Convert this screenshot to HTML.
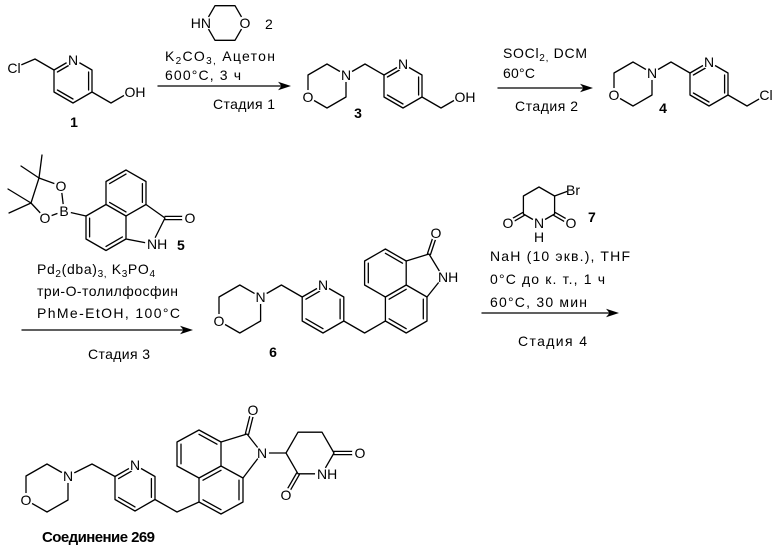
<!DOCTYPE html>
<html><head><meta charset="utf-8">
<style>
html,body{margin:0;padding:0;background:#fff;}
svg{display:block;}
text{font-family:"Liberation Sans",Arial,sans-serif;font-size:14px;fill:#000;}
.b{font-weight:bold;}
</style></head>
<body>
<svg width="780" height="555" viewBox="0 0 780 555" xmlns="http://www.w3.org/2000/svg">
<rect width="780" height="555" fill="#fff"/>
<g stroke="#000" stroke-width="1.3" fill="none" stroke-linecap="round" stroke-linejoin="round">
<!-- Compound 1 -->
<polygon points="73,59 92,70 92,92 73,103 54,92 54,70"/>
<path d="M57.4,72 L73,63 M88.6,72 L88.6,90 M73,99 L57.4,90"/>
<path d="M54,70 L35,59 L14,68 M92,92 L111,103 L130,92"/>
<!-- Morpholine 2 -->
<polygon points="205,23 215,5.7 235,5.7 245,23 235,40.3 215,40.3"/>
<!-- Arrow 1 -->
<path d="M158,86 L282,86"/>
<!-- Compound 3 -->
<polygon points="327,64 346,75 346,97 327,108 308,97 308,75"/>
<path d="M346,75 L365,64 L384,75"/>
<polygon points="403,64 422,75 422,97 403,108 384,97 384,75"/>
<path d="M387.4,77 L403,68 M418.6,77 L418.6,95 M403,104 L387.4,95"/>
<path d="M422,97 L441,108 L460,97"/>
<!-- Arrow 2 -->
<path d="M498,88 L586,88"/>
<!-- Compound 4 -->
<polygon points="633,62 652,73 652,95 633,106 614,95 614,73"/>
<path d="M652,73 L671,62 L690,73"/>
<polygon points="709,62 728,73 728,95 709,106 690,95 690,73"/>
<path d="M693.4,75 L709,66 M724.6,75 L724.6,93 M709,102 L693.4,93"/>
<path d="M728,95 L747,106 L766,95"/>
<!-- Compound 5 -->
<polygon points="126,170 146,181.5 146,204.5 126,216 106,204.5 106,181.5"/>
<path d="M126,216 L126,239 L106,250.5 L86,239 L86,216 L106,204.5"/>
<path d="M109.6,183.6 L126,174.1 M142.4,183.6 L142.4,202.4 M109.6,202.4 L126,211.9"/>
<path d="M89.6,236.9 L89.6,218.1 M122.4,236.9 L106,246.4"/>
<path d="M146,204.5 L165,218 L152,244 L126,239"/>
<path d="M165,216.4 L189,216.4 M165,219.6 L189,219.6"/>
<path d="M86,216 L64,211"/>
<path d="M64,211 L61,186 L39,178 L31,203 L45,218 L64,211"/>
<path d="M39,178 L42,155 M39,178 L21,166 M31,203 L8,189 M31,203 L9,213"/>
<!-- Arrow 3 -->
<path d="M22,330 L188,330"/>
<!-- Compound 6 -->
<polygon points="239.8,285 260.6,297 260.6,321 239.8,333 219,321 219,297"/>
<path d="M260.6,297 L281.4,285 L302.2,297"/>
<polygon points="323,285 343.8,297 343.8,321 323,333 302.2,321 302.2,297"/>
<path d="M305.9,299.2 L323,289.3 M340.1,299.2 L340.1,318.8 M323,328.7 L305.9,318.8"/>
<path d="M343.8,321 L364.6,333 L385.4,321"/>
<polygon points="385.4,249 406.2,261 406.2,285 385.4,297 364.6,285 364.6,261"/>
<path d="M406.2,285 L427,297 L427,321 L406.2,333 L385.4,321 L385.4,297"/>
<path d="M368.3,263.2 L368.3,282.8 M385.4,253.3 L402.5,263.2"/>
<path d="M406.2,289.3 L389.1,299.2 M423.3,299.2 L423.3,318.8 M406.2,328.7 L389.1,318.8"/>
<path d="M406.2,261 L429,254 L443,277 L427,297"/>
<path d="M430.5,254.5 L437.5,233.5 M427.5,253.5 L434.5,232.5"/>
<!-- Compound 7 -->
<polygon points="539,187 554.6,196 554.6,214 539,223 523.4,214 523.4,196"/>
<path d="M524.2,215.4 L508.6,224.4 M522.6,212.6 L507,221.6"/>
<path d="M553.8,215.4 L569.4,224.4 M555.4,212.6 L571,221.6"/>
<path d="M554.6,196 L571,190"/>
<!-- Arrow 4 -->
<path d="M482,313 L612,313"/>
<!-- Compound 269 -->
<polygon points="47,464 68,476 68,500 47,512 26,500 26,476"/>
<path d="M68,476 L92,464 L115,476.5"/>
<polygon points="135,465 155,476.5 155,499.5 135,511 115,499.5 115,476.5"/>
<path d="M118.6,478.6 L135,469.1 M151.4,478.6 L151.4,497.4 M135,506.9 L118.6,497.4"/>
<path d="M155,499.5 L177,512 L199,502"/>
<polygon points="199,430 221,442 221,466 199,478 177,466 177,442"/>
<path d="M221,466 L243,478 L243,502 L221,514 L199,502 L199,478"/>
<path d="M181,444.2 L181,463.8 M199,434.3 L217,444.2"/>
<path d="M221,470.3 L203,480.2 M239,480.2 L239,499.8 M221,509.7 L203,499.8"/>
<path d="M221,442 L247,434 L262,453 L243,478"/>
<path d="M248.6,434.4 L254.6,410.4 M245.4,433.6 L251.4,409.6"/>
<path d="M262,453 L286,453"/>
<polygon points="286,453 298,432.2 322,432.2 334,453 322,473.8 298,473.8"/>
<path d="M334,451.4 L358,451.4 M334,454.6 L358,454.6"/>
<path d="M299.4,474.6 L287.4,495.4 M296.6,473 L284.6,493.8"/>
</g>
<!-- arrowheads -->
<g fill="#000" stroke="none">
<polygon points="291,86 278,81.8 281.5,86 278,90.2"/>
<polygon points="593,88 580,83.8 583.5,88 580,92.2"/>
<polygon points="193,330 180,325.8 183.5,330 180,334.2"/>
<polygon points="619,313 606,308.8 609.5,313 606,317.2"/>
</g>
<!-- knockouts -->
<g fill="#fff" stroke="none">
<circle cx="73" cy="60" r="7"/><circle cx="14" cy="68" r="8"/><circle cx="130" cy="92" r="7"/>
<circle cx="205" cy="23" r="7"/><circle cx="245" cy="23" r="7"/>
<circle cx="346" cy="75" r="7"/><circle cx="308" cy="97" r="7"/><circle cx="403" cy="64" r="7"/><circle cx="460" cy="97" r="7"/>
<circle cx="652" cy="73" r="7"/><circle cx="614" cy="95" r="7"/><circle cx="709" cy="62" r="7"/><circle cx="766" cy="95" r="8"/>
<circle cx="64" cy="211" r="7"/><circle cx="61" cy="186" r="7"/><circle cx="45" cy="218" r="7"/><circle cx="152" cy="244" r="7"/><circle cx="189" cy="218" r="7"/>
<circle cx="260.6" cy="297" r="7"/><circle cx="219" cy="321" r="7"/><circle cx="323" cy="285" r="7"/><circle cx="436" cy="233" r="7"/><circle cx="443" cy="277" r="7"/>
<circle cx="539" cy="223" r="7"/><circle cx="508" cy="223" r="7"/><circle cx="571" cy="223" r="7"/><circle cx="573" cy="190" r="6"/>
<circle cx="68" cy="476" r="7"/><circle cx="26" cy="500" r="7"/><circle cx="135" cy="465" r="7"/><circle cx="253" cy="410" r="7"/><circle cx="262" cy="453" r="7"/><circle cx="359" cy="453" r="7"/><circle cx="322" cy="474" r="7"/><circle cx="286" cy="495" r="7"/>
</g>
<!-- labels -->
<g>
<!-- compound 1 -->
<text x="73" y="65" text-anchor="middle">N</text>
<text x="14" y="73" text-anchor="middle">Cl</text>
<text x="124.5" y="97">OH</text>
<text x="74" y="127" text-anchor="middle" class="b">1</text>
<!-- morpholine 2 -->
<text x="211" y="28" text-anchor="end">HN</text>
<text x="245" y="28" text-anchor="middle">O</text>
<text x="265" y="29">2</text>
<!-- conditions 1 -->
<text x="165" y="61" textLength="110">K<tspan font-size="10" dy="3">2</tspan><tspan dy="-3">CO</tspan><tspan font-size="10" dy="3">3,</tspan><tspan dy="-3"> Ацетон</tspan></text>
<text x="165" y="80" textLength="76">600°C, 3 ч</text>
<text x="213" y="109" textLength="62">Стадия 1</text>
<!-- compound 3 -->
<text x="346" y="80" text-anchor="middle">N</text>
<text x="308" y="102" text-anchor="middle">O</text>
<text x="403" y="69" text-anchor="middle">N</text>
<text x="454.5" y="102">OH</text>
<text x="358" y="118" text-anchor="middle" class="b">3</text>
<!-- conditions 2 -->
<text x="503" y="58" textLength="84">SOCl<tspan font-size="10" dy="3">2,</tspan><tspan dy="-3"> DCM</tspan></text>
<text x="503" y="78" textLength="32">60°C</text>
<text x="515" y="111" textLength="63">Стадия 2</text>
<!-- compound 4 -->
<text x="652" y="78" text-anchor="middle">N</text>
<text x="614" y="100" text-anchor="middle">O</text>
<text x="709" y="67" text-anchor="middle">N</text>
<text x="766" y="100" text-anchor="middle">Cl</text>
<text x="663" y="113" text-anchor="middle" class="b">4</text>
<!-- compound 5 -->
<text x="64" y="216" text-anchor="middle">B</text>
<text x="61" y="191" text-anchor="middle">O</text>
<text x="45" y="223" text-anchor="middle">O</text>
<text x="147" y="249">NH</text>
<text x="190" y="223" text-anchor="middle">O</text>
<text x="177" y="250" class="b">5</text>
<!-- conditions 3 -->
<text x="37" y="274" textLength="118">Pd<tspan font-size="10" dy="3">2</tspan><tspan dy="-3">(dba)</tspan><tspan font-size="10" dy="3">3,</tspan><tspan dy="-3"> K</tspan><tspan font-size="10" dy="3">3</tspan><tspan dy="-3">PO</tspan><tspan font-size="10" dy="3">4</tspan></text>
<text x="37" y="296" textLength="141">три-О-толилфосфин</text>
<text x="37" y="318" textLength="143">PhMe-EtOH, 100°C</text>
<text x="88" y="359" textLength="62">Стадия 3</text>
<!-- compound 6 -->
<text x="260.6" y="302" text-anchor="middle">N</text>
<text x="219" y="326" text-anchor="middle">O</text>
<text x="323" y="290" text-anchor="middle">N</text>
<text x="436" y="238" text-anchor="middle">O</text>
<text x="438" y="282">NH</text>
<text x="273" y="357" text-anchor="middle" class="b">6</text>
<!-- compound 7 -->
<text x="508" y="228" text-anchor="middle">O</text>
<text x="539" y="228" text-anchor="middle">N</text>
<text x="539" y="242" text-anchor="middle">H</text>
<text x="571" y="228" text-anchor="middle">O</text>
<text x="566" y="195">Br</text>
<text x="588" y="222" class="b">7</text>
<!-- conditions 4 -->
<text x="490" y="261" textLength="140">NaH (10 экв.), THF</text>
<text x="490" y="284" textLength="115">0°C до к. т., 1 ч</text>
<text x="490" y="307" textLength="97">60°C, 30 мин</text>
<text x="518" y="346" textLength="69">Стадия 4</text>
<!-- compound 269 -->
<text x="68" y="481" text-anchor="middle">N</text>
<text x="26" y="505" text-anchor="middle">O</text>
<text x="135" y="470" text-anchor="middle">N</text>
<text x="253" y="415" text-anchor="middle">O</text>
<text x="262" y="458" text-anchor="middle">N</text>
<text x="360" y="458" text-anchor="middle">O</text>
<text x="317" y="479">NH</text>
<text x="286" y="500" text-anchor="middle">O</text>
<text x="42" y="542" class="b" style="font-size:15px" textLength="113">Соединение 269</text>
</g>
</svg>
</body></html>
